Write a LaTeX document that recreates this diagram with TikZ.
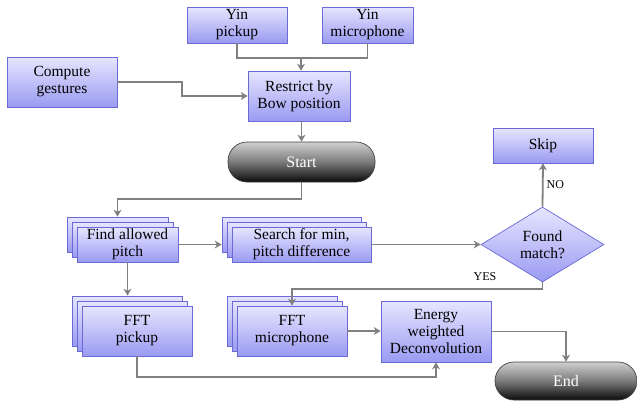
\documentclass[tikz,border=0pt]{standalone}
\usepackage{fontspec}
\newfontfamily\tnrfont{LiberationSerif-Regular.ttf}
\usetikzlibrary{shapes.geometric,arrows.meta}
\definecolor{boxtop}{HTML}{E6E6FF}
\definecolor{boxbot}{HTML}{9A9AF2}
\definecolor{boxline}{HTML}{6A6AD6}
\definecolor{conncol}{HTML}{808080}
\definecolor{termtop}{HTML}{D0D0D0}
\definecolor{termmid}{HTML}{7A7A7A}
\definecolor{termbot}{HTML}{0A0A0A}
\tikzset{
 box/.style={draw=boxline, line width=0.7pt, top color=boxtop, bottom color=boxbot, align=center, inner sep=0pt, font=\tnrfont\fontsize{15.5}{17}\selectfont},
 term/.style={draw=black!75, line width=0.7pt, rounded corners=19pt, top color=termtop, bottom color=termbot, middle color=termmid, text=white, font=\tnrfont\fontsize{16}{18}\selectfont, inner sep=0pt},
 conn/.style={draw=conncol, line width=1.8pt},
 arr/.style={conn, -{Stealth[length=7pt,width=8pt]}},
 lab/.style={font=\tnrfont\fontsize{12}{14}\selectfont, inner sep=1pt},
}
\begin{document}
\begin{tikzpicture}[x=1pt,y=-1pt]
\useasboundingbox (0,0) rectangle (637,400);
% top boxes
\node[box, minimum width=100pt, minimum height=36pt] (yinp) at (237,25) {Yin\\pickup};
\node[box, minimum width=91pt, minimum height=36pt] (yinm) at (367.5,25) {Yin\\microphone};
\node[box, minimum width=110pt, minimum height=50pt] (comp) at (62,82) {Compute\\gestures};
\node[box, minimum width=102pt, minimum height=50pt] (restr) at (299,96) {Restrict by\\Bow position};
\node[term, minimum width=147pt, minimum height=40pt] (start) at (301.5,162) {Start};
% find allowed (stack)
\node[box, minimum width=101pt, minimum height=35pt] (find3) at (117.5,234.5) {};
\node[box, minimum width=101pt, minimum height=35pt] (find2) at (122.5,239.5) {};
\node[box, minimum width=101pt, minimum height=35pt] (find) at (127.5,244.5) {Find allowed\\pitch};
% search (stack)
\node[box, minimum width=139pt, minimum height=35pt] (search3) at (291.5,234.5) {};
\node[box, minimum width=139pt, minimum height=35pt] (search2) at (296.5,239.5) {};
\node[box, minimum width=139pt, minimum height=35pt] (search) at (301.5,244.5) {Search for min,\\pitch difference};
% diamond and skip
\node[box, diamond, aspect=1.64, minimum width=123pt, minimum height=75pt] (dia) at (542.5,244.5) {Found\\match?};
\node[box, minimum width=100pt, minimum height=35pt] (skip) at (543,145.5) {Skip};
% FFT pickup (stack)
\node[box, minimum width=110pt, minimum height=50pt] (fftp3) at (127,321) {};
\node[box, minimum width=110pt, minimum height=50pt] (fftp2) at (132,326) {};
\node[box, minimum width=110pt, minimum height=50pt] (fftp) at (137,331) {FFT\\pickup};
% FFT microphone (stack)
\node[box, minimum width=110pt, minimum height=50pt] (fftm3) at (282,321) {};
\node[box, minimum width=110pt, minimum height=50pt] (fftm2) at (287,326) {};
\node[box, minimum width=110pt, minimum height=50pt] (fftm) at (292,331) {FFT\\microphone};
% energy
\node[box, minimum width=110pt, minimum height=61pt] (energy) at (436,331.5) {Energy\\weighted\\Deconvolution};
\node[term, minimum width=142pt, minimum height=38pt] (end) at (566,381) {End};
% connectors
\coordinate (j1) at (301,58);
\draw[conn] (yinp.south) |- (j1);
\draw[arr] (yinm.south) |- (j1) -- (restr.north -| j1);
\coordinate (c1) at (182,82);
\draw[arr] (comp.east) -- (c1) |- (restr.west);
\draw[arr] (restr.south -| start.north) -- (start.north);
\draw[arr] (start.south) -- ++(0,17) -| (find3.north);
\draw[arr] (find.east) -- (find.east -| search3.west);
\draw[arr] (search.east) -- (dia.west);
\draw[arr] (dia.north) -- (skip.south) node[lab, midway, right=2pt] {NO};
\draw[arr] (dia.south) -- ++(0,6.5) -| (fftm.north);
\node[lab] (yes) at (485,277) {YES};
\draw[arr] (find.south) -- (find.south |- fftp3.north);
\draw[arr] (fftm.east) -- (fftm.east -| energy.west);
\draw[arr] (energy.east) -| (end.north);
\draw[arr] (fftp.south) -- ++(0,21) -| (energy.south);
\end{tikzpicture}
\end{document}
